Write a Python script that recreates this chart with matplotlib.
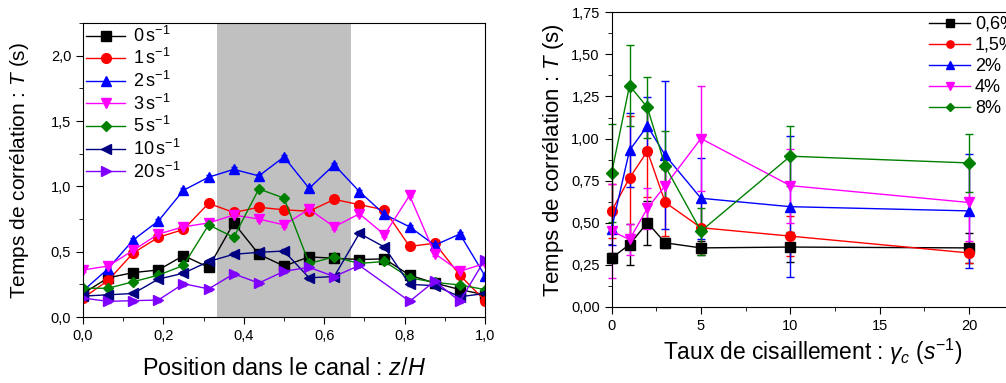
import numpy as np
import matplotlib.pyplot as plt
from matplotlib.ticker import MultipleLocator, FuncFormatter
from matplotlib.lines import Line2D

plt.rcParams['font.family'] = ['Liberation Sans', 'DejaVu Sans']
plt.rcParams['mathtext.fontset'] = 'custom'
plt.rcParams['mathtext.it'] = 'Liberation Sans:italic'
plt.rcParams['mathtext.rm'] = 'Liberation Sans'

# left panel: T(s) versus z/H, one series per shear rate
z = [i / 16 for i in range(17)]
rates = ['0', '1', '2', '3', '5', '10', '20']
T_0 = [0.18, 0.30, 0.34, 0.36, 0.47, 0.38, 0.72, 0.48, 0.39, 0.46, 0.45, 0.44, 0.445, 0.32, 0.26, 0.21, 0.17]
T_1 = [0.145, 0.28, 0.49, 0.61, 0.67, 0.87, 0.80, 0.84, 0.82, 0.81, 0.90, 0.86, 0.82, 0.54, 0.565, 0.32, 0.125]
T_2 = [0.20, 0.37, 0.59, 0.735, 0.97, 1.07, 1.13, 1.08, 1.225, 0.985, 1.165, 0.96, 0.785, 0.69, 0.55, 0.635, 0.315]
T_3 = [0.36, 0.39, 0.51, 0.635, 0.69, 0.72, 0.78, 0.75, 0.705, 0.825, 0.69, 0.79, 0.63, 0.93, 0.485, 0.35, 0.41]
T_5 = [0.22, 0.22, 0.27, 0.32, 0.395, 0.705, 0.61, 0.98, 0.91, 0.41, 0.46, 0.41, 0.425, 0.30, 0.265, 0.245, 0.21]
T_10 = [0.16, 0.17, 0.18, 0.29, 0.335, 0.425, 0.48, 0.495, 0.505, 0.30, 0.31, 0.64, 0.535, 0.25, 0.24, 0.155, 0.18]
z_20 = [z[i] for i in range(17) if i != 12]
T_20 = [0.145, 0.12, 0.125, 0.13, 0.255, 0.215, 0.33, 0.26, 0.35, 0.38, 0.31, 0.395, 0.12, 0.275, 0.12, 0.44]

# right panel: T(s) versus shear rate, one series per concentration
gamma = [0, 1, 2, 3, 5, 10, 20]
conc = ['0,6%', '1,5%', '2%', '4%', '8%']
T_06 = [0.29, 0.37, 0.50, 0.38, 0.35, 0.355, 0.35]
err_06 = [0.03, 0.12, 0.13, 0.03, 0.04, 0.09, 0.09]
T_15 = [0.57, 0.765, 0.925, 0.62, 0.47, 0.42, 0.32]
err_15 = [0.16, 0.37, 0.27, 0.20, 0.15, 0.12, 0.06]
T_2p = [0.465, 0.93, 1.075, 0.90, 0.645, 0.595, 0.57]
err_2p = [0.10, 0.22, 0.17, 0.44, 0.24, 0.42, 0.34]
T_4 = [0.45, 0.40, 0.585, 0.72, 1.00, 0.72, 0.62]
err_4 = [0.28, 0.09, 0.12, 0.10, 0.31, 0.22, 0.23]
T_8 = [0.795, 1.315, 1.185, 0.835, 0.45, 0.895, 0.855]
err_8 = [0.29, 0.24, 0.18, 0.21, 0.14, 0.18, 0.17]

fig = plt.figure(figsize=(10.06, 3.83), dpi=100)
comma = FuncFormatter(lambda v, p: ('%.1f' % v).replace('.', ','))
comma2 = FuncFormatter(lambda v, p: ('%.2f' % v).replace('.', ','))

# ---- left ----
ax1 = fig.add_axes([0.0825, 0.1723, 0.3996, 0.7676])
ax1.axvspan(1/3, 2/3, color='#c0c0c0', lw=0, zorder=0)
left_series = [
    (z, T_0, 'black', 's'),
    (z, T_1, 'red', 'o'),
    (z, T_2, 'blue', '^'),
    (z, T_3, '#ff00ff', 'v'),
    (z, T_5, '#008000', 'D'),
    (z, T_10, '#000080', '<'),
    (z_20, T_20, '#8000ff', '>'),
]
handles = []
for (xs, ys, c, m), r in zip(left_series, rates):
    ms = 5 if m == 'D' else 7
    ax1.errorbar(xs, ys, yerr=0.015, color=c, marker=m, ms=ms, lw=1,
                 capsize=2, elinewidth=0.8)
    handles.append(Line2D([], [], color=c, marker=m, ms=ms, lw=1,
                          label=r + r'$\,$s$^{-1}$'))
ax1.set_xlim(0, 1)
ax1.set_ylim(0, 2.25)
ax1.xaxis.set_major_locator(MultipleLocator(0.2))
ax1.xaxis.set_minor_locator(MultipleLocator(0.1))
ax1.yaxis.set_major_locator(MultipleLocator(0.5))
ax1.yaxis.set_minor_locator(MultipleLocator(0.25))
ax1.xaxis.set_major_formatter(comma)
ax1.yaxis.set_major_formatter(comma)
ax1.tick_params(which='both', direction='out', labelsize=10.5)
ax1.tick_params(which='major', length=5)
ax1.tick_params(which='minor', length=3)
ax1.set_xlabel(r'Position dans le canal : $z/H$', fontsize=16.8, labelpad=10)
ax1.set_ylabel(r'Temps de corrélation : $T$ (s)', fontsize=15, labelpad=14)
ax1.legend(handles=handles, loc='upper left', frameon=False, fontsize=13,
           handlelength=2.2, handletextpad=0.4, labelspacing=0.14,
           borderaxespad=0.1, borderpad=0.05)

# ---- right ----
ax2 = fig.add_axes([0.608, 0.199, 0.3996, 0.7687])
right_series = [
    (T_06, err_06, 'black', 's'),
    (T_15, err_15, 'red', 'o'),
    (T_2p, err_2p, 'blue', '^'),
    (T_4, err_4, '#ff00ff', 'v'),
    (T_8, err_8, '#008000', 'D'),
]
handles2 = []
for (ys, es, c, m), lab in zip(right_series, conc):
    ms = 6 if m == 'D' else 7
    ax2.errorbar(gamma, ys, yerr=es, color=c, marker=m, ms=ms, lw=1,
                 capsize=3, elinewidth=1, clip_on=False)
    handles2.append(Line2D([], [], color=c, marker=m, ms=ms * 0.75, lw=1,
                           label=lab))
ax2.set_xlim(0, 22.5)
ax2.set_ylim(0, 1.75)
ax2.xaxis.set_major_locator(MultipleLocator(5))
ax2.xaxis.set_minor_locator(MultipleLocator(2.5))
ax2.yaxis.set_major_locator(MultipleLocator(0.25))
ax2.yaxis.set_minor_locator(MultipleLocator(0.125))
ax2.yaxis.set_major_formatter(comma2)
ax2.tick_params(which='both', direction='out', labelsize=10.5)
ax2.tick_params(which='major', length=5)
ax2.tick_params(which='minor', length=3)
ax2.set_xlabel(r'Taux de cisaillement : $\gamma_c$ ($s^{-1}$)', fontsize=16.4, labelpad=3)
ax2.set_ylabel(r'Temps de corrélation : $T$ (s)', fontsize=16, labelpad=4)
ax2.legend(handles=handles2, loc='upper left', bbox_to_anchor=(0.78, 1.0),
           frameon=False, fontsize=13, handlelength=2.3, handletextpad=0.25,
           labelspacing=0.22, borderaxespad=0.0, borderpad=0.2)

fig.savefig('out.png', dpi=100)
